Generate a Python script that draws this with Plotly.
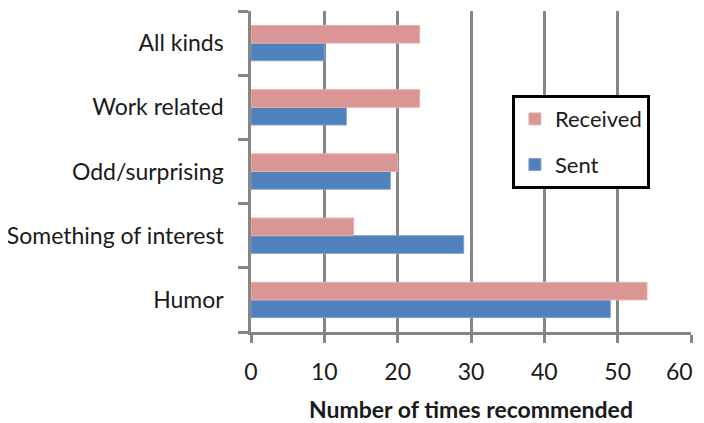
import plotly.graph_objects as go

categories = ["Humor", "Something of interest", "Odd/surprising", "Work related", "All kinds"]
sent = [49, 29, 19, 13, 10]
received = [54, 14, 20, 23, 23]
x_ticks = [0, 10, 20, 30, 40, 50, 60]
x_ticktext = ["0", "10", "20", "30", "40", "50", "60\u00a0\u00a0\u00a0\u00a0"]

FONT = "Lato, Carlito, Calibri, sans-serif"
GRID = "#868686"

fig = go.Figure()
fig.add_trace(go.Bar(
    y=categories, x=sent, orientation="h", name="Sent",
    marker=dict(color="#4F81BD", line=dict(color="#7B9FD0", width=1)),
    legendgroup="s", legendrank=2,
))
fig.add_trace(go.Bar(
    y=categories, x=received, orientation="h", name="Received",
    marker=dict(color="#D99694", line=dict(color="#E6B2B0", width=1)),
    legendgroup="r", legendrank=1,
))

fig.update_layout(
    width=696, height=415,
    margin=dict(l=243, r=13, t=3, b=91, autoexpand=False),
    paper_bgcolor="white", plot_bgcolor="white",
    barmode="group", bargap=0.45, bargroupgap=0,
    font=dict(family=FONT, size=23, color="#1a1a1a"),
    showlegend=True,
    legend=dict(
        x=0.593, y=0.738, xanchor="left", yanchor="top",
        bgcolor="white", bordercolor="black", borderwidth=3,
        traceorder="grouped", tracegroupgap=14,
        font=dict(family=FONT, size=22, color="#1a1a1a"),
        itemwidth=30,
    ),
    xaxis=dict(
        range=[0, 60], tickvals=x_ticks, ticktext=x_ticktext,
        showgrid=True, gridcolor=GRID, gridwidth=2.5,
        showline=True, linecolor=GRID, linewidth=2.5,
        ticks="outside", ticklen=8, tickwidth=2.5, tickcolor=GRID,
        ticklabelstandoff=10, ticklabeloverflow="allow",
        zeroline=False, automargin=False,
        title=dict(text="<b>Number of times recommended</b>", standoff=18,
                   font=dict(family=FONT, size=23, color="#1a1a1a")),
    ),
    yaxis=dict(
        showgrid=False, showline=True, linecolor=GRID, linewidth=2.5,
        ticks="outside", ticklen=10, tickwidth=2.5, tickcolor=GRID,
        tickson="boundaries", ticklabelstandoff=20, automargin=False,
        categoryorder="array", categoryarray=categories,
    ),
)

fig.write_html("out.html")
